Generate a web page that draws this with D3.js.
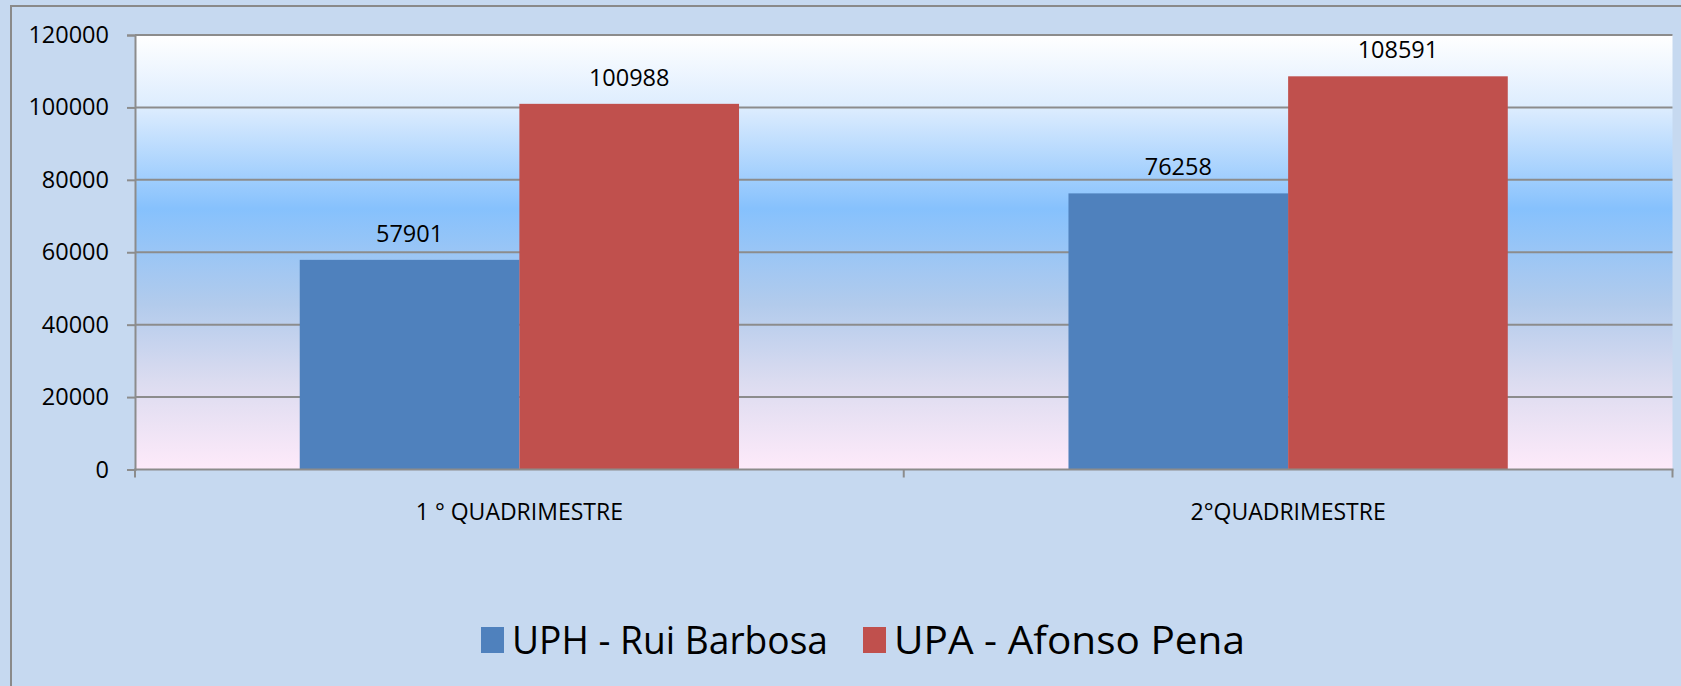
<!DOCTYPE html>
<html>
<head>
<meta charset="utf-8">
<script src="https://cdn.jsdelivr.net/npm/d3@7"></script>
<style>
  body { margin: 0; background: #c6d9f0; }
  svg { display: block; font-family: "Open Sans", sans-serif; }
</style>
</head>
<body>
<div id="chart"></div>
<script>
"use strict";

// data
const categories = ["1 ° QUADRIMESTRE", "2°QUADRIMESTRE"];
const seriesNames = ["UPH - Rui Barbosa", "UPA - Afonso Pena"];
const seriesColors = ["#4f81bd", "#c0504d"];
const uphValues = [57901, 76258];
const upaValues = [100988, 108591];
const yTicks = [0, 20000, 40000, 60000, 80000, 100000, 120000];

window.addEventListener("load", () => {
    const W = 1681, H = 686;
    const plot = {left: 135, top: 35, right: 1672.5, bottom: 469.5};

    const svg = d3.select("#chart").append("svg")
        .attr("width", W)
        .attr("height", H);

    // background + frame
    svg.append("rect").attr("width", W).attr("height", H).attr("fill", "#c6d9f0");
    svg.append("line").attr("x1", 11).attr("x2", 11).attr("y1", 6).attr("y2", H)
        .attr("stroke", "#8a8a8a").attr("stroke-width", 2);
    svg.append("line").attr("x1", 10).attr("x2", W).attr("y1", 6).attr("y2", 6)
        .attr("stroke", "#8a8a8a").attr("stroke-width", 2);

    // plot area gradient
    const grad = svg.append("defs").append("linearGradient")
        .attr("id", "plotbg").attr("x1", 0).attr("x2", 0).attr("y1", 0).attr("y2", 1);
    [[0, "#ffffff"], [0.17, "#dcecfe"], [0.40, "#86c1fd"], [0.62, "#b2cbec"],
     [0.80, "#dcdcf0"], [1, "#feeafa"]].forEach(s => {
        grad.append("stop").attr("offset", s[0]).attr("stop-color", s[1]);
    });
    svg.append("rect")
        .attr("x", plot.left).attr("y", plot.top)
        .attr("width", plot.right - plot.left).attr("height", plot.bottom - plot.top)
        .attr("fill", "url(#plotbg)");

    // scales
    const y = d3.scaleLinear().domain([0, 120000]).range([plot.bottom, plot.top]);
    const x0 = d3.scaleBand().domain(categories).range([plot.left, plot.right]);
    const bw = x0.bandwidth();
    const barW = bw / 3.5;   // gap width 150%
    const x1 = d3.scaleBand().domain(seriesNames).range([barW * 0.75, bw - barW * 0.75]);

    // gridlines
    svg.append("g").selectAll("line").data(yTicks.filter(d => d > 0)).join("line")
        .attr("x1", plot.left).attr("x2", plot.right)
        .attr("y1", d => y(d)).attr("y2", d => y(d))
        .attr("stroke", "#8c8c8c").attr("stroke-width", 2);

    // y axis
    const yAxis = svg.append("g")
        .attr("transform", `translate(${plot.left},0)`)
        .call(d3.axisLeft(y).tickValues(yTicks).tickFormat(d3.format("d"))
              .tickSize(8).tickPadding(18));
    yAxis.select(".domain").attr("stroke", "#8c8c8c").attr("stroke-width", 2);
    yAxis.selectAll(".tick line").attr("stroke", "#8c8c8c").attr("stroke-width", 2);
    yAxis.selectAll(".tick text")
        .attr("fill", "#000").attr("font-size", 23.5)
        .attr("font-family", "'Open Sans', sans-serif");

    // bars
    const rows = categories.map((c, i) => ({cat: c, vals: [uphValues[i], upaValues[i]]}));
    const groups = svg.append("g").selectAll("g").data(rows).join("g")
        .attr("transform", d => `translate(${x0(d.cat)},0)`);

    groups.selectAll("rect")
        .data(d => d.vals.map((v, j) => ({name: seriesNames[j], v: v, j: j})))
        .join("rect")
        .attr("x", d => x1(d.name))
        .attr("y", d => y(d.v))
        .attr("width", x1.bandwidth())
        .attr("height", d => y(0) - y(d.v))
        .attr("fill", d => seriesColors[d.j]);

    groups.selectAll("text")
        .data(d => d.vals.map((v, j) => ({name: seriesNames[j], v: v})))
        .join("text")
        .attr("x", d => x1(d.name) + x1.bandwidth() / 2)
        .attr("y", d => y(d.v) - 18)
        .attr("text-anchor", "middle")
        .attr("font-size", 23.5)
        .text(d => d.v);

    // x axis
    const xAxis = svg.append("g")
        .attr("transform", `translate(0,${plot.bottom})`);
    xAxis.append("line").attr("x1", plot.left - 1).attr("x2", plot.right + 1)
        .attr("stroke", "#8c8c8c").attr("stroke-width", 2);
    const xEdges = [plot.left, ...categories.slice(1).map(c => x0(c)), plot.right];
    xAxis.selectAll(".xt").data(xEdges).join("line")
        .attr("class", "xt")
        .attr("x1", d => d).attr("x2", d => d).attr("y1", 0).attr("y2", 8)
        .attr("stroke", "#8c8c8c").attr("stroke-width", 2);
    xAxis.selectAll("text").data(categories).join("text")
        .attr("x", d => x0(d) + bw / 2)
        .attr("y", 50)
        .attr("text-anchor", "middle")
        .attr("font-size", 23)
        .text(d => d);

    // legend (text squeezed a bit like the original's narrow font)
    const legendX = [481, 863];
    const legendTextW = [316, 351];
    const leg = svg.append("g").selectAll("g").data(seriesNames).join("g")
        .attr("transform", (d, i) => `translate(${legendX[i]},627)`);
    leg.append("rect")
        .attr("width", 23).attr("height", 26)
        .attr("fill", (d, i) => seriesColors[i]);
    leg.append("text")
        .attr("x", 31).attr("y", 27)
        .attr("font-size", 39)
        .attr("textLength", (d, i) => legendTextW[i])
        .attr("lengthAdjust", "spacingAndGlyphs")
        .text(d => d);
});
</script>
</body>
</html>
